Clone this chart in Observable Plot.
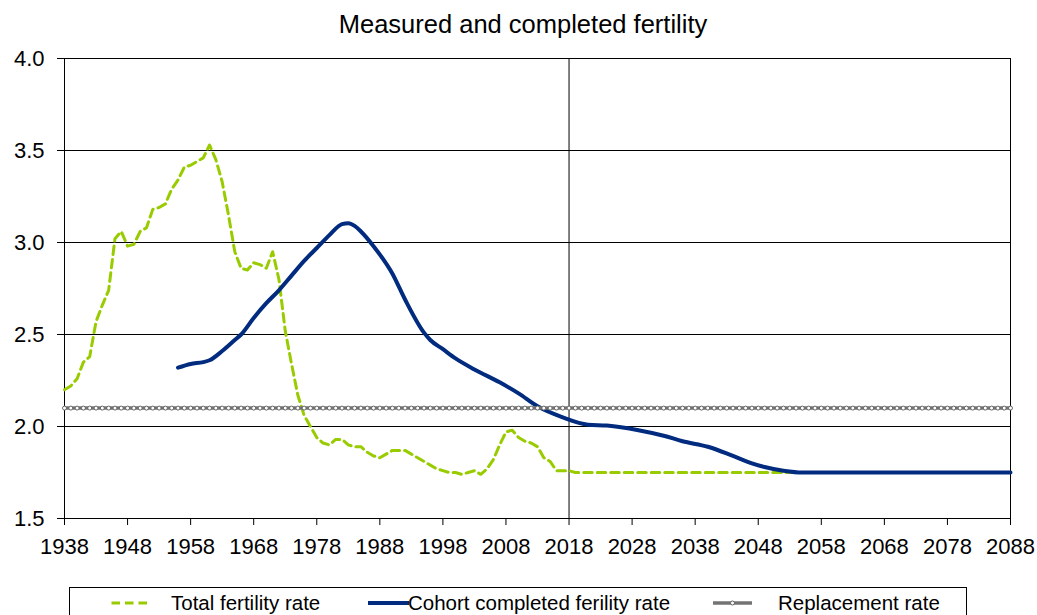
<!DOCTYPE html>
<html>
<head>
<meta charset="utf-8">
<script src="https://cdn.jsdelivr.net/npm/d3@7"></script>
<script src="https://cdn.jsdelivr.net/npm/@observablehq/plot@0.6"></script>
<style>
  html, body { margin: 0; padding: 0; background: #fff; }
  body { width: 1037px; height: 615px; position: relative; overflow: hidden; font-family: "Liberation Sans", Arial, sans-serif; color: #000; }
  #title { position: absolute; left: 0; top: 9px; width: 1046px; text-align: center; font-size: 25.5px; line-height: 30px; }
  #chart { position: absolute; left: 0; top: 48px; }
  .legbox { position: absolute; left: 69px; top: 587px; width: 898px; height: 40px; border: 1px solid #000; box-sizing: border-box; }
  .legtxt { position: absolute; top: 591px; font-size: 20.5px; line-height: 24px; white-space: nowrap; }
  .legsw { position: absolute; top: 593px; }
</style>
</head>
<body>
<div id="title">Measured and completed fertility</div>
<div id="chart"></div>
<div class="legbox"></div>
<svg class="legsw" style="left:108px" width="44" height="20"><line x1="3.5" x2="40" y1="10" y2="10" stroke="#99cc00" stroke-width="3" stroke-dasharray="8.5,5"/></svg>
<div class="legtxt" style="left:171px">Total fertility rate</div>
<svg class="legsw" style="left:366px" width="46" height="20"><line x1="2" x2="43" y1="10" y2="10" stroke="#002b7f" stroke-width="4"/></svg>
<div class="legtxt" style="left:408px">Cohort completed ferility rate</div>
<svg class="legsw" style="left:710px" width="46" height="20"><line x1="3" x2="42" y1="10" y2="10" stroke="#737373" stroke-width="3.5"/><circle cx="22.5" cy="10" r="2" fill="#fff" stroke="#666" stroke-width="1"/></svg>
<div class="legtxt" style="left:778px">Replacement rate</div>
<script>
// ---- data ----
const xTicks = [1938, 1948, 1958, 1968, 1978, 1988, 1998, 2008, 2018, 2028, 2038, 2048, 2058, 2068, 2078, 2088];
const yTicks = [1.5, 2.0, 2.5, 3.0, 3.5, 4.0];

const tfrYears = [1938,1939,1940,1941,1942,1943,1944,1945,1946,1947,1948,1949,1950,1951,1952,1953,1954,1955,1956,1957,1958,1959,1960,1961,1962,1963,1964,1965,1966,1967,1968,1969,1970,1971,1972,1973,1974,1975,1976,1977,1978,1979,1980,1981,1982,1983,1984,1985,1986,1987,1988,1989,1990,1991,1992,1993,1994,1995,1996,1997,1998,1999,2000,2001,2002,2003,2004,2005,2006,2007,2008,2009,2010,2011,2012,2013,2014,2015,2016,2017,2018,2019,2020,2054];
const tfrValues = [2.20,2.22,2.26,2.35,2.38,2.57,2.66,2.74,3.02,3.06,2.98,2.99,3.06,3.08,3.18,3.19,3.21,3.29,3.34,3.41,3.42,3.44,3.46,3.53,3.45,3.33,3.15,2.95,2.86,2.85,2.89,2.88,2.86,2.95,2.80,2.52,2.34,2.17,2.06,2.00,1.94,1.91,1.90,1.93,1.93,1.90,1.89,1.89,1.86,1.84,1.83,1.85,1.87,1.87,1.87,1.85,1.83,1.81,1.79,1.77,1.76,1.75,1.75,1.74,1.75,1.76,1.74,1.77,1.82,1.90,1.97,1.98,1.94,1.92,1.91,1.89,1.83,1.81,1.76,1.76,1.76,1.75,1.75,1.75];

const cohortYears = [1956,1958,1960,1961,1963,1965,1966,1968,1970,1972,1974,1976,1978,1980,1982,1983,1984,1985,1987,1990,1992,1995,1996,1998,2000,2003,2007,2010,2013,2017,2021,2024,2029,2033,2036,2040,2044,2047,2049,2052,2055,2088];
const cohortValues = [2.32,2.34,2.35,2.36,2.41,2.47,2.50,2.59,2.67,2.74,2.82,2.90,2.97,3.04,3.10,3.105,3.09,3.06,2.98,2.83,2.69,2.51,2.47,2.42,2.37,2.31,2.24,2.18,2.11,2.05,2.01,2.005,1.98,1.95,1.92,1.89,1.84,1.80,1.78,1.76,1.75,1.75];

const replacementYears = d3.range(1938, 2089);
const replacementRate = 2.1;
const divider = [2018];

const tfr = tfrYears.map((x, i) => ({x, y: tfrValues[i]}));
const cohort = cohortYears.map((x, i) => ({x, y: cohortValues[i]}));
const repl = replacementYears.map(x => ({x, y: replacementRate}));

const chart = Plot.plot({
  width: 1037,
  height: 510,
  marginTop: 10,
  marginBottom: 40,
  marginLeft: 64,
  marginRight: 27,
  style: {fontFamily: "'Liberation Sans', Arial, sans-serif", fontSize: "22px", color: "#000", background: "#fff", overflow: "visible"},
  x: {domain: [1938, 2088], label: null},
  y: {domain: [1.5, 4.0], label: null},
  marks: [
    Plot.ruleY(yTicks, {stroke: "#000", strokeWidth: 1}),
    Plot.ruleX(divider, {stroke: "#000", strokeWidth: 1}),
    Plot.frame({stroke: "#000", strokeWidth: 1}),
    Plot.axisX({ticks: xTicks, tickSize: 7, tickPadding: 13, fontSize: 22, tickFormat: d => String(d), stroke: "#000", label: null}),
    Plot.axisY({ticks: yTicks, tickSize: 7, tickPadding: 13, fontSize: 22, tickFormat: d => d.toFixed(1), stroke: "#000", label: null}),
    Plot.line(tfr, {x: "x", y: "y", stroke: "#99cc00", strokeWidth: 3, strokeDasharray: "8.5,5", strokeLinejoin: "round"}),
    Plot.line(cohort, {x: "x", y: "y", stroke: "#002b7f", strokeWidth: 4, curve: "monotone-x"}),
    Plot.line(repl, {x: "x", y: "y", stroke: "#737373", strokeWidth: 3.5}),
    Plot.dot(repl, {x: "x", y: "y", r: 2, fill: "#fff", stroke: "#666", strokeWidth: 1})
  ]
});
document.getElementById("chart").appendChild(chart);
</script>
</body>
</html>
